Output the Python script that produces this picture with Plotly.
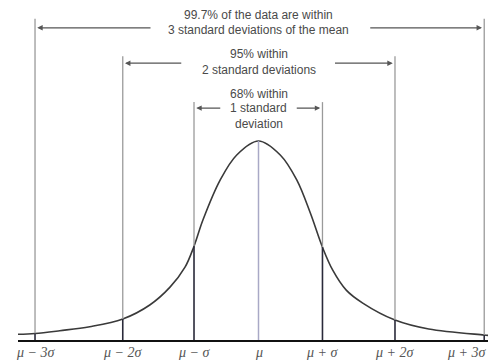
import plotly.graph_objects as go

# Curve (x in sigma units, y as density-like height)
curve_x = [-3.21, -2.98, -2.65, -2.25, -1.81, -1.45, -1.18, -0.98, -0.86, -0.74, -0.51, -0.29,
           0.0, 0.29, 0.51, 0.69, 0.853, 0.99, 1.17, 1.39, 1.82, 2.27, 3.01, 3.17]
curve_y = [0.0114, 0.013, 0.0186, 0.0267, 0.0421, 0.0702, 0.106, 0.146, 0.188, 0.241, 0.321, 0.371,
           0.399, 0.371, 0.321, 0.255, 0.186, 0.140, 0.100, 0.074, 0.040, 0.022, 0.010, 0.008]

# Marker positions (sigma units) and their labels
tick_pos = [-2.98, -1.81, -0.86, 0.0, 0.853, 1.82, 3.01]
tick_labels = ["μ − 3σ", "μ − 2σ", "μ − σ", "μ", "μ + σ", "μ + 2σ", "μ + 3σ"]
curve_at_ticks = [0.013, 0.042, 0.188, 0.399, 0.186, 0.040, 0.010]

# Bracket annotations: top of vertical lines, arrow height, text lines
bracket_top = [0.644, 0.569, 0.477]
bracket_arrow = [0.626, 0.555, 0.465]
bracket_inner = [(-1.42, 1.47), (-1.01, 1.0), (-0.49, 0.49)]
bracket_text = [
    ["99.7% of the data are within", "3 standard deviations of the mean"],
    ["95% within", "2 standard deviations"],
    ["68% within", "1 standard", "deviation"],
]
text_y = [[0.652, 0.622], [0.573, 0.541], [0.493, 0.465, 0.433]]

X_MIN, X_MAX = -3.207, 3.167

fig = go.Figure()

shapes = []
for i, (xp, yc) in enumerate(zip(tick_pos, curve_at_ticks)):
    if i == 3:
        shapes.append(dict(type="line", x0=xp, x1=xp, y0=0, y1=yc, xref="x", yref="y",
                           line=dict(color="#a9a9c6", width=1.5)))
        continue
    level = min(i, 6 - i)
    shapes.append(dict(type="line", x0=xp, x1=xp, y0=yc, y1=bracket_top[level], xref="x", yref="y",
                       line=dict(color="#9a9a9a", width=1.3)))
    shapes.append(dict(type="line", x0=xp, x1=xp, y0=0, y1=yc, xref="x", yref="y",
                       line=dict(color="#2a2a3a", width=1.6)))

fig.add_trace(go.Scatter(x=curve_x, y=curve_y, mode="lines",
                         line=dict(color="#3a3a3a", width=1.6, shape="spline"),
                         hoverinfo="skip", showlegend=False))

annotations = []
outer = [(tick_pos[0], tick_pos[6]), (tick_pos[1], tick_pos[5]), (tick_pos[2], tick_pos[4])]
for lvl in range(3):
    ya = bracket_arrow[lvl]
    (lo, hi), (ilo, ihi) = outer[lvl], bracket_inner[lvl]
    for end, start in ((lo, ilo), (hi, ihi)):
        annotations.append(dict(x=end + (0.03 if end < 0 else -0.03), y=ya, ax=start, ay=ya,
                                xref="x", yref="y", axref="x", ayref="y", text="",
                                showarrow=True, arrowhead=2, arrowsize=0.9, arrowwidth=1.2,
                                arrowcolor="#555555"))
    for t, ty in zip(bracket_text[lvl], text_y[lvl]):
        annotations.append(dict(x=0.0, y=ty, xref="x", yref="y", text=t, showarrow=False,
                                font=dict(family="Liberation Sans, Arial", size=12, color="#4a4a4a")))

# axis labels as annotations; the last one is kept inside the right edge
for k, (xp, lab) in enumerate(zip(tick_pos, tick_labels)):
    last = k == len(tick_pos) - 1
    annotations.append(dict(x=X_MAX if last else xp, y=0, xref="x", yref="y",
                            text="<i>" + lab + "</i>", showarrow=False, yanchor="top", yshift=-3,
                            xanchor="right" if last else "center", xshift=-8 if last else 0,
                            font=dict(family="Liberation Serif, DejaVu Serif", size=14, color="#555555")))

fig.update_layout(
    width=488, height=354,
    margin=dict(l=10, r=0, t=0, b=22),
    paper_bgcolor="white", plot_bgcolor="white",
    shapes=shapes, annotations=annotations,
    xaxis=dict(range=[X_MIN, X_MAX], showgrid=False, zeroline=False, showline=True,
               linecolor="#111111", linewidth=2, showticklabels=False, ticks=""),
    yaxis=dict(range=[0, 0.6657], visible=False),
)

fig.write_html("out.html")
